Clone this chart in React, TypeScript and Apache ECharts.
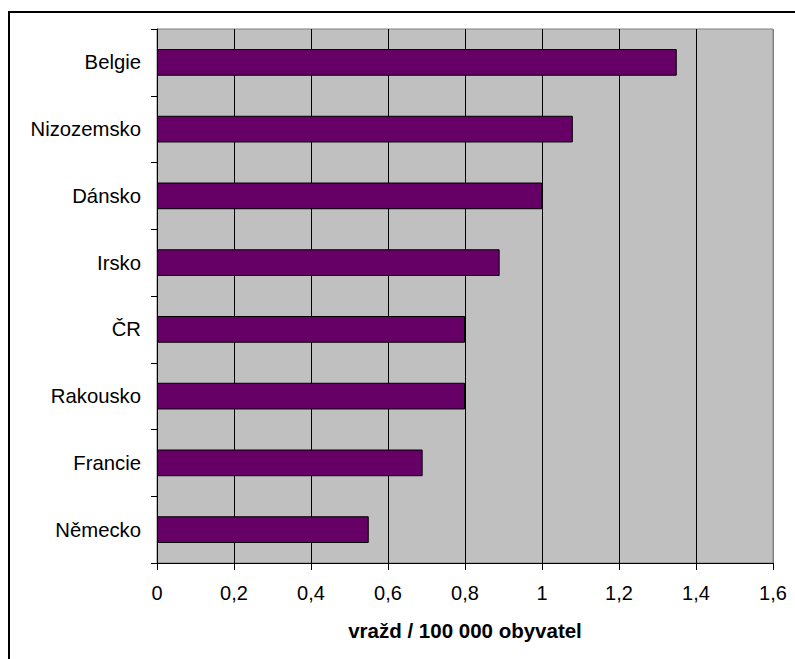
import React, { useEffect, useRef } from "react";
import * as echarts from "echarts";

const categories = ["Belgie", "Nizozemsko", "Dánsko", "Irsko", "ČR", "Rakousko", "Francie", "Německo"];
const values = [1.35, 1.08, 1.0, 0.89, 0.8, 0.8, 0.69, 0.55];
const axisTitle = "vražd / 100 000 obyvatel";
const xMin = 0;
const xMax = 1.6;
const xStep = 0.2;

export default function App() {
  const ref = useRef<HTMLDivElement>(null);
  useEffect(() => {
    if (!ref.current) return;
    const chart = echarts.init(ref.current, null, { renderer: "svg" });
    const font = "'Liberation Sans', Arial, sans-serif";
    const gridColors = ["#000", "#000", "#000", "#000", "#000", "#000", "#000", "#000", "#808080"];
    chart.setOption({
      animation: false,
      graphic: [
        {
          type: "polyline",
          shape: { points: [[9, 659], [9, 12], [795, 12]] },
          style: { stroke: "#000", lineWidth: 2, fill: null },
          silent: true,
        },
      ],
      grid: {
        left: 157,
        top: 29,
        right: 22,
        bottom: 96,
        show: true,
        backgroundColor: "#C0C0C0",
        borderColor: "#808080",
        borderWidth: 1,
      },
      xAxis: {
        type: "value",
        min: xMin,
        max: xMax,
        interval: xStep,
        name: axisTitle,
        nameLocation: "middle",
        nameGap: 57,
        nameTextStyle: { fontFamily: font, fontSize: 20.5, fontWeight: "bold", color: "#000" },
        axisLine: { show: true, lineStyle: { color: "#000", width: 1 } },
        axisTick: { show: true, length: 7, lineStyle: { color: "#000" } },
        axisLabel: {
          margin: 20,
          fontFamily: font,
          fontSize: 20,
          color: "#000",
          formatter: (v: number) => String(Number(v.toFixed(1))).replace(".", ","),
        },
        splitLine: { show: true, lineStyle: { color: gridColors, width: 1 } },
      },
      yAxis: {
        type: "category",
        data: categories,
        inverse: true,
        axisLine: { show: true, lineStyle: { color: "#000", width: 1 } },
        axisTick: { show: true, length: 6, lineStyle: { color: "#000" } },
        axisLabel: { margin: 16, fontFamily: font, fontSize: 20.3, color: "#000" },
        splitLine: { show: false },
      },
      series: [
        {
          type: "bar",
          data: values,
          barWidth: "40%",
          itemStyle: { color: "#660066", borderColor: "#000", borderWidth: 1 },
        },
      ],
    });
    return () => chart.dispose();
  }, []);
  return (
    <div
      ref={ref}
      style={{ position: "fixed", left: 0, top: 0, width: 795, height: 659, background: "#fff" }}
    />
  );
}
